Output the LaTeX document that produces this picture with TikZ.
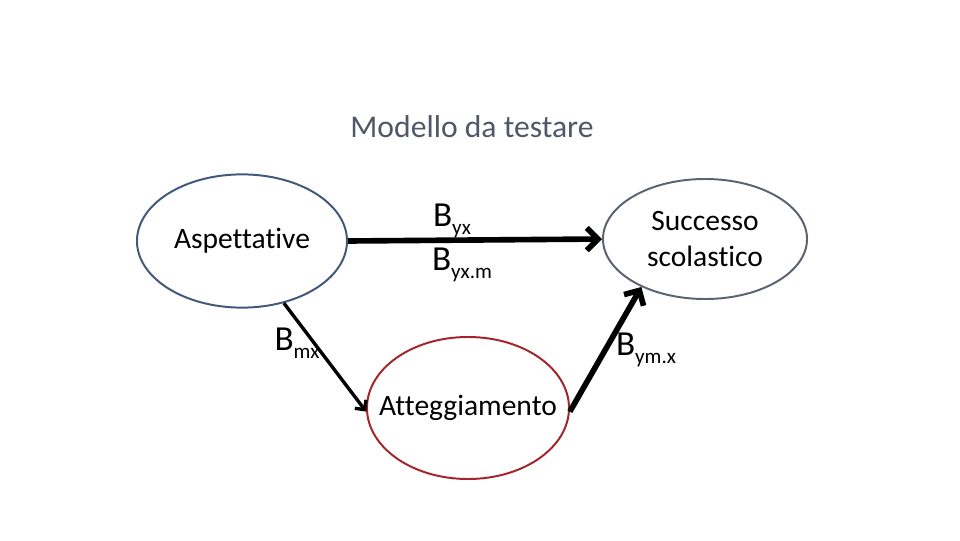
\documentclass[tikz,border=0pt]{standalone}
\usepackage{fontspec}
\setmainfont[Ligatures=NoCommon]{Carlito}
\usetikzlibrary{shapes.geometric}
\usetikzlibrary{arrows.meta}

\definecolor{bluerim}{HTML}{41587A}
\definecolor{greyrim}{HTML}{5B6370}
\definecolor{redrim}{HTML}{A3252A}
\definecolor{titlegrey}{HTML}{4E5866}

\newcommand{\coef}[1]{B\raisebox{-0.45ex}{\fontsize{15}{15}\selectfont #1}}

\tikzset{
    oval/.style={ellipse, draw, line width=1.4pt, inner sep=0pt},
    ovaltext/.style={font=\fontsize{21}{26}\selectfont, align=center},
    coeflabel/.style={font=\fontsize{25}{25}\selectfont, inner sep=0pt},
    path/.style={line width=4pt, -{Straight Barb[length=8pt,width=16pt]}},
    thinpath/.style={line width=2.4pt, -{Straight Barb[length=5pt,width=10pt]}}
}

\begin{document}
\begin{tikzpicture}[x=0.025cm, y=-0.025cm]

    % Canvas
    \useasboundingbox (0,0) rectangle (960,540);

    % Title
    \node [font=\fontsize{22.5}{26}\selectfont, text=titlegrey] (title) at (472,127) {Modello da testare};

    % Draw variables
    \node [oval, bluerim, minimum width=5.25cm, minimum height=3.33cm,
        label={[ovaltext]center:Aspettative}] (asp) at (242,241) {};
    \node [oval, greyrim, minimum width=5.1cm, minimum height=3cm,
        label={[ovaltext]center:Successo\\scolastico}] (succ) at (705,239) {};
    \node [oval, redrim, minimum width=5.05cm, minimum height=3.55cm,
        label={[ovaltext]center:Atteggiamento}] (att) at (468,408) {};

    % Draw paths
    \draw [path] (asp.east) -- (succ.west);
    \draw [thinpath] (asp.-56) -- (att.182);
    \draw [path] (att.-2) -- (succ.217);

    % Draw coefficients
    \node [coeflabel] (byx) at (452,221) {\coef{yx}};
    \node [coeflabel] (byxm) at (462,265) {\coef{yx.m}};
    \node [coeflabel] (bmx) at (297,343) {\coef{mx}};
    \node [coeflabel] (bymx) at (646,350) {\coef{ym.x}};

\end{tikzpicture}
\end{document}
